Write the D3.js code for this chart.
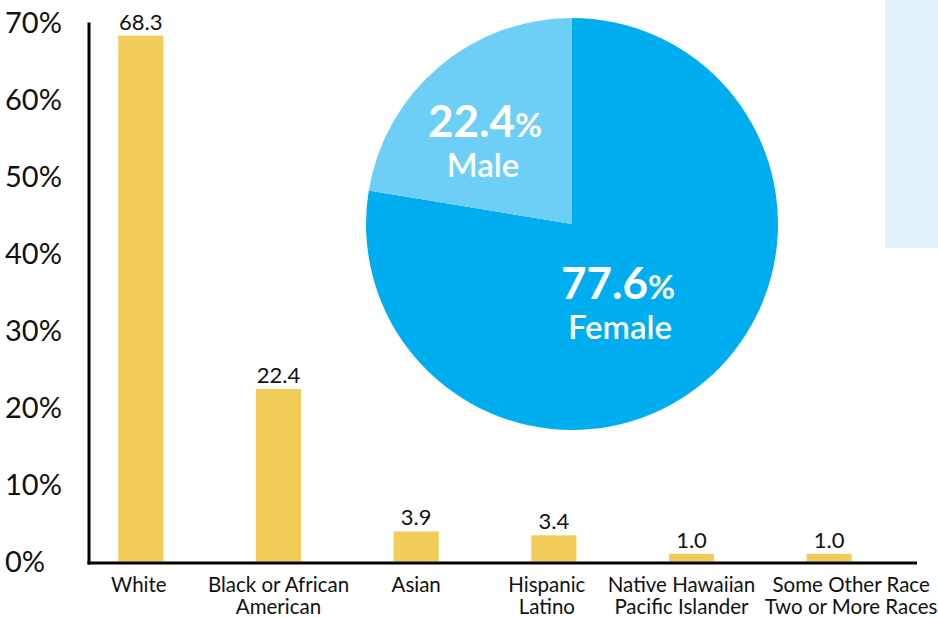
<!DOCTYPE html>
<html>
<head>
<meta charset="utf-8">
<script src="https://cdn.jsdelivr.net/npm/d3@7/dist/d3.min.js"></script>
<style>
  html, body { margin: 0; padding: 0; background: #fff; }
  svg { display: block; font-family: Lato, "Open Sans", sans-serif; }
</style>
</head>
<body>
<svg id="chart" width="938" height="617"></svg>
<script>
// ---- Data ----
const categories = [
  ["White"],
  ["Black or African", "American"],
  ["Asian"],
  ["Hispanic", "Latino"],
  ["Native Hawaiian", "Pacific Islander"],
  ["Some Other Race", "Two or More Races"]
];
const values = [68.3, 22.4, 3.9, 3.4, 1.0, 1.0];
const valueLabels = ["68.3", "22.4", "3.9", "3.4", "1.0", "1.0"];
const yTicks = [0, 10, 20, 30, 40, 50, 60, 70];
const genderNames = ["Female", "Male"];
const genderValues = [77.6, 22.4];
const genderNumbers = ["77.6", "22.4"];

// ---- Layout ----
const svg = d3.select("#chart");
const axisX = 89;
// horizontal nudges of the category labels relative to bar centres (layout only)
const catLabelShift = [-2, 0, 0, -7, -10, 22];

// light blue panel at right
svg.append("rect").attr("x", 885).attr("y", 0).attr("width", 53).attr("height", 248).attr("fill", "#E0F1FB");

const y = d3.scaleLinear().domain([0, 70]).range([561.5, 22.5]);
const x = d3.scaleBand().domain(d3.range(categories.length))
  .range([72, 898]).paddingInner(0.672).paddingOuter(0.336);

// y axis labels
const yAxis = d3.axisLeft(y).tickValues(yTicks).tickSize(0).tickFormat(d => d + "%");
const gy = svg.append("g").attr("transform", `translate(${axisX},0)`).call(yAxis);
gy.select(".domain").remove();
gy.selectAll("text")
  .attr("x", -84).attr("dy", "0.36em")
  .attr("text-anchor", "start")
  .style("font-family", "Lato, sans-serif")
  .style("font-size", "29px")
  .attr("fill", "#111");

// bars
svg.append("g").selectAll("rect").data(values).join("rect")
  .attr("x", (d, i) => x(i))
  .attr("width", x.bandwidth())
  .attr("y", d => y(d))
  .attr("height", d => y(0) - y(d))
  .attr("fill", "#F2CC58");

// value labels
svg.append("g").selectAll("text").data(values).join("text")
  .attr("x", (d, i) => x(i) + x.bandwidth() / 2)
  .attr("y", d => y(d) - 6)
  .attr("text-anchor", "middle")
  .style("font-size", "22px")
  .attr("fill", "#111")
  .text((d, i) => valueLabels[i]);

// category labels
const catG = svg.append("g");
categories.forEach((lines, i) => {
  const cxl = x(i) + x.bandwidth() / 2 + catLabelShift[i];
  const t = catG.append("text")
    .attr("x", cxl)
    .attr("y", 592)
    .attr("text-anchor", "middle")
    .style("font-size", "20.5px")
    .attr("fill", "#111");
  lines.forEach((l, j) => {
    t.append("tspan").attr("x", cxl).attr("dy", j === 0 ? 0 : 22).text(l);
  });
});

// axis lines
svg.append("line").attr("x1", axisX).attr("x2", axisX).attr("y1", y(70)).attr("y2", y(0) + 3)
  .attr("stroke", "#000").attr("stroke-width", 3);
svg.append("line").attr("x1", axisX - 1.5).attr("x2", 917).attr("y1", y(0) + 1.5).attr("y2", y(0) + 1.5)
  .attr("stroke", "#000").attr("stroke-width", 3);

// pie
const cx = 572, cy = 224, R = 206;
const pie = d3.pie().sort(null).value(d => d)(genderValues);
const arc = d3.arc().innerRadius(0).outerRadius(R);
const pieColors = ["#00AEEF", "#6DCFF6"];
const pg = svg.append("g").attr("transform", `translate(${cx},${cy})`);
pg.selectAll("path").data(pie).join("path")
  .attr("d", arc)
  .attr("fill", (d, i) => pieColors[i]);

// pie labels: [number x, number baseline y, name x, name baseline offset] relative to centre
const labelPos = [[46, 75, 48, 40], [-87, -87, -89, 40]];
genderNames.forEach((name, i) => {
  const [dx, dy, nx, ndy] = labelPos[i];
  const t = pg.append("text")
    .attr("x", dx).attr("y", dy)
    .attr("text-anchor", "middle")
    .attr("fill", "#fff");
  t.append("tspan").style("font-size", "44px").style("font-weight", "700").text(genderNumbers[i]);
  t.append("tspan").style("font-size", "33px").style("font-weight", "700").text("%");
  t.append("tspan").attr("x", nx).attr("dy", ndy)
    .style("font-size", "33px").style("font-weight", "600").text(name);
});
</script>
</body>
</html>
